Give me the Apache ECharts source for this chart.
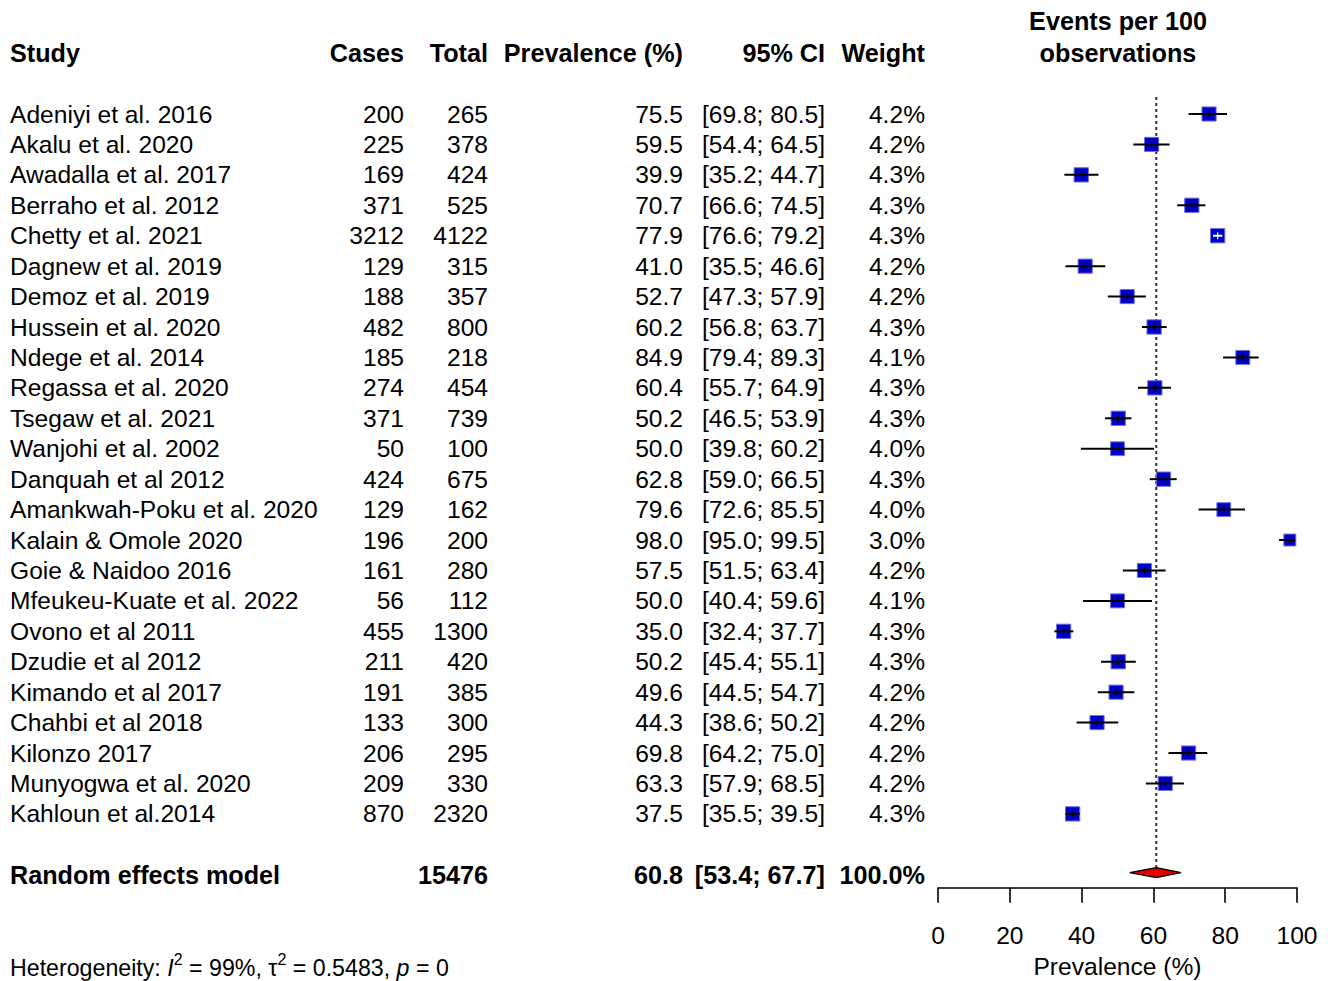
<!DOCTYPE html>
<html>
<head>
<meta charset="utf-8">
<script src="https://cdn.jsdelivr.net/npm/echarts@6/dist/echarts.min.js"></script>
<style>
html,body{margin:0;padding:0;background:#fff;}
#chart{width:1333px;height:981px;}
</style>
</head>
<body>
<div id="chart"></div>
<script>
// ---------------- data ----------------
const studies = ["Adeniyi et al. 2016","Akalu et al. 2020","Awadalla et al. 2017","Berraho et al. 2012","Chetty et al. 2021","Dagnew et al. 2019","Demoz et al. 2019","Hussein et al. 2020","Ndege et al. 2014","Regassa et al. 2020","Tsegaw et al. 2021","Wanjohi et al. 2002","Danquah et al 2012","Amankwah-Poku et al. 2020","Kalain & Omole 2020","Goie & Naidoo 2016","Mfeukeu-Kuate et al. 2022","Ovono et al 2011","Dzudie et al 2012","Kimando et al 2017","Chahbi et al 2018","Kilonzo 2017","Munyogwa et al. 2020","Kahloun et al.2014"];
const cases  = [200,225,169,371,3212,129,188,482,185,274,371,50,424,129,196,161,56,455,211,191,133,206,209,870];
const totals = [265,378,424,525,4122,315,357,800,218,454,739,100,675,162,200,280,112,1300,420,385,300,295,330,2320];
const prevalence = [75.5,59.5,39.9,70.7,77.9,41.0,52.7,60.2,84.9,60.4,50.2,50.0,62.8,79.6,98.0,57.5,50.0,35.0,50.2,49.6,44.3,69.8,63.3,37.5];
const ciLower = [69.8,54.4,35.2,66.6,76.6,35.5,47.3,56.8,79.4,55.7,46.5,39.8,59.0,72.6,95.0,51.5,40.4,32.4,45.4,44.5,38.6,64.2,57.9,35.5];
const ciUpper = [80.5,64.5,44.7,74.5,79.2,46.6,57.9,63.7,89.3,64.9,53.9,60.2,66.5,85.5,99.5,63.4,59.6,37.7,55.1,54.7,50.2,75.0,68.5,39.5];
const weights = [4.2,4.2,4.3,4.3,4.3,4.2,4.2,4.3,4.1,4.3,4.3,4.0,4.3,4.0,3.0,4.2,4.1,4.3,4.3,4.2,4.2,4.2,4.2,4.3];

const summaryLabel = "Random effects model";
const summaryTotal = 15476;
const summaryEst = 60.8;
const summaryLower = 53.4;
const summaryUpper = 67.7;
const summaryWeight = 100.0;

const heterogeneity = {I2: "99%", tau2: "0.5483", p: "0"};
const xTicks = {min: 0, max: 100, interval: 20};
const columnHeaders = ["Study","Cases","Total","Prevalence (%)","95% CI","Weight"];
const plotHeader = ["Events per 100","observations"];
const xAxisName = "Prevalence (%)";

// ---------------- layout ----------------
const ROW0 = 114, ROWH = 30.43;
const rowY = r => ROW0 + r * ROWH;
const FONT = "'Liberation Sans', Arial, Helvetica, sans-serif";
const FS = 24.6, FSB = 25.2, FSH = 23.2;
const SUMROW = studies.length + 1;   // one blank row then summary
const PLOT_MIN = -1, PLOT_MAX = 25.43;
const TAB_MIN = -3.5, TAB_MAX = 28.4;

// column anchor positions (table grid uses a 0..1333 horizontal scale)
const col = {study: 10, cases: 404, total: 488, prev: 683, ci: 825, weight: 925, plotCenter: 1118};

const fmt1 = v => v.toFixed(1);
const ciText = (l, u) => "[" + fmt1(l) + "; " + fmt1(u) + "]";

// text items
const texts = [];
function addText(x, row, text, align, bold, extra) {
  texts.push(Object.assign({x, row, text, align, bold}, extra || {}));
}
addText(col.study, -2, columnHeaders[0], 'left', true);
addText(col.cases, -2, columnHeaders[1], 'right', true);
addText(col.total, -2, columnHeaders[2], 'right', true);
addText(col.prev, -2, columnHeaders[3], 'right', true);
addText(col.ci, -2, columnHeaders[4], 'right', true);
addText(col.weight, -2, columnHeaders[5], 'right', true);
addText(col.plotCenter, -3.05, plotHeader[0], 'center', true);
addText(col.plotCenter, -2, plotHeader[1], 'center', true);
studies.forEach((s, i) => {
  addText(col.study, i, s, 'left', false);
  addText(col.cases, i, String(cases[i]), 'right', false);
  addText(col.total, i, String(totals[i]), 'right', false);
  addText(col.prev, i, fmt1(prevalence[i]), 'right', false);
  addText(col.ci, i, ciText(ciLower[i], ciUpper[i]), 'right', false);
  addText(col.weight, i, fmt1(weights[i]) + "%", 'right', false);
});
addText(col.study, SUMROW, summaryLabel, 'left', true);
addText(col.total, SUMROW, String(summaryTotal), 'right', true);
addText(col.prev, SUMROW, fmt1(summaryEst), 'right', true);
addText(col.ci, SUMROW, ciText(summaryLower, summaryUpper), 'right', true);
addText(col.weight, SUMROW, fmt1(summaryWeight) + "%", 'right', true);
addText(col.study, 27.98, null, 'left', false, {rich: true});

const chart = echarts.init(document.getElementById('chart'), null, {renderer: 'svg'});

const plotTop = rowY(PLOT_MIN), plotBottom = rowY(PLOT_MAX);
const tabTop = rowY(TAB_MIN), tabBottom = rowY(TAB_MAX);

const option = {
  backgroundColor: '#ffffff',
  animation: false,
  grid: [
    {left: 938, width: 359, top: plotTop, height: plotBottom - plotTop, containLabel: false, outerBoundsMode: 'none'},
    {left: 0, width: 1333, top: tabTop, height: tabBottom - tabTop, containLabel: false, outerBoundsMode: 'none'}
  ],
  xAxis: [
    {
      gridIndex: 0, type: 'value', min: xTicks.min, max: xTicks.max, interval: xTicks.interval,
      position: 'bottom',
      axisLine: {show: true, onZero: false, lineStyle: {color: '#000', width: 1.6}},
      axisTick: {show: true, length: 15, lineStyle: {color: '#000', width: 1.6}},
      axisLabel: {color: '#000', fontSize: FS, fontFamily: FONT, margin: 35},
      splitLine: {show: false},
      name: xAxisName, nameLocation: 'middle', nameGap: 66,
      nameTextStyle: {color: '#000', fontSize: FS, fontFamily: FONT}
    },
    {gridIndex: 1, type: 'value', min: 0, max: 1333, show: false, axisLine: {onZero: false}}
  ],
  yAxis: [
    {gridIndex: 0, type: 'value', min: PLOT_MIN, max: PLOT_MAX, inverse: true, show: false, axisLine: {onZero: false}},
    {gridIndex: 1, type: 'value', min: TAB_MIN, max: TAB_MAX, inverse: true, show: false, axisLine: {onZero: false}}
  ],
  series: [
    // reference (random effects) dotted line
    {
      type: 'line', xAxisIndex: 0, yAxisIndex: 0, symbol: 'none', silent: true,
      data: [[summaryEst, -0.56], [summaryEst, SUMROW - 0.2]],
      lineStyle: {color: '#333', width: 2, type: [3, 3]},
      z: 1
    },
    // study squares with CIs
    {
      type: 'custom', xAxisIndex: 0, yAxisIndex: 0, clip: false, z: 3,
      data: prevalence.map((p, i) => [p, i, ciLower[i], ciUpper[i], weights[i]]),
      renderItem: function (params, api) {
        const est = api.coord([api.value(0), api.value(1)]);
        const lo = api.coord([api.value(2), api.value(1)]);
        const hi = api.coord([api.value(3), api.value(1)]);
        const s = 6.9 * Math.sqrt(api.value(4));
        const inside = (lo[0] >= est[0] - s / 2) && (hi[0] <= est[0] + s / 2);
        const lc = inside ? '#ffffff' : '#000000';
        return {
          type: 'group',
          children: [
            {type: 'rect', shape: {x: est[0] - s / 2, y: est[1] - s / 2, width: s, height: s},
             style: {fill: '#0000c8', stroke: '#7070dc', lineWidth: 1}},
            {type: 'line', shape: {x1: lo[0], y1: lo[1], x2: hi[0], y2: hi[1]},
             style: {stroke: lc, lineWidth: 2}},
            {type: 'line', shape: {x1: est[0], y1: est[1] - 3.5, x2: est[0], y2: est[1] + 3.5},
             style: {stroke: lc, lineWidth: 1.2}}
          ]
        };
      }
    },
    // summary diamond
    {
      type: 'custom', xAxisIndex: 0, yAxisIndex: 0, clip: false, z: 4,
      data: [[summaryEst, SUMROW - 0.07, summaryLower, summaryUpper]],
      renderItem: function (params, api) {
        const c = api.coord([api.value(0), api.value(1)]);
        const lo = api.coord([api.value(2), api.value(1)]);
        const hi = api.coord([api.value(3), api.value(1)]);
        const h = 5;
        return {
          type: 'polygon',
          shape: {points: [[lo[0], c[1]], [c[0], c[1] - h], [hi[0], c[1]], [c[0], c[1] + h]]},
          style: {fill: '#e00000', stroke: '#000', lineWidth: 1.2}
        };
      }
    },
    // table text
    {
      type: 'custom', xAxisIndex: 1, yAxisIndex: 1, clip: false, z: 5, silent: true,
      data: texts.map(t => [t.x, t.row]),
      renderItem: function (params, api) {
        const t = texts[params.dataIndex];
        const p = api.coord([api.value(0), api.value(1)]);
        if (t.rich) {
          return {
            type: 'text', x: p[0], y: p[1],
            style: {
              text: "{a|Heterogeneity: }{i|I}{sup|2}{a| = " + heterogeneity.I2 + ", τ}{sup|2}{a| = " + heterogeneity.tau2 + ", }{i|p}{a| = " + heterogeneity.p + "}",
              align: 'left', verticalAlign: 'middle',
              rich: {
                a: {fontSize: FSH, fontFamily: FONT, fill: '#000', lineHeight: 28, verticalAlign: 'bottom'},
                i: {fontSize: FSH, fontFamily: FONT, fontStyle: 'italic', fill: '#000', lineHeight: 28, verticalAlign: 'bottom'},
                sup: {fontSize: 16, fontFamily: FONT, fill: '#000', lineHeight: 16, verticalAlign: 'top'}
              }
            }
          };
        }
        return {
          type: 'text', x: p[0], y: p[1],
          style: {
            text: t.text, align: t.align, verticalAlign: 'middle',
            font: (t.bold ? 'bold ' + FSB : FS) + 'px ' + FONT,
            fill: '#000'
          }
        };
      }
    }
  ]
};
chart.setOption(option);
</script>
</body>
</html>
